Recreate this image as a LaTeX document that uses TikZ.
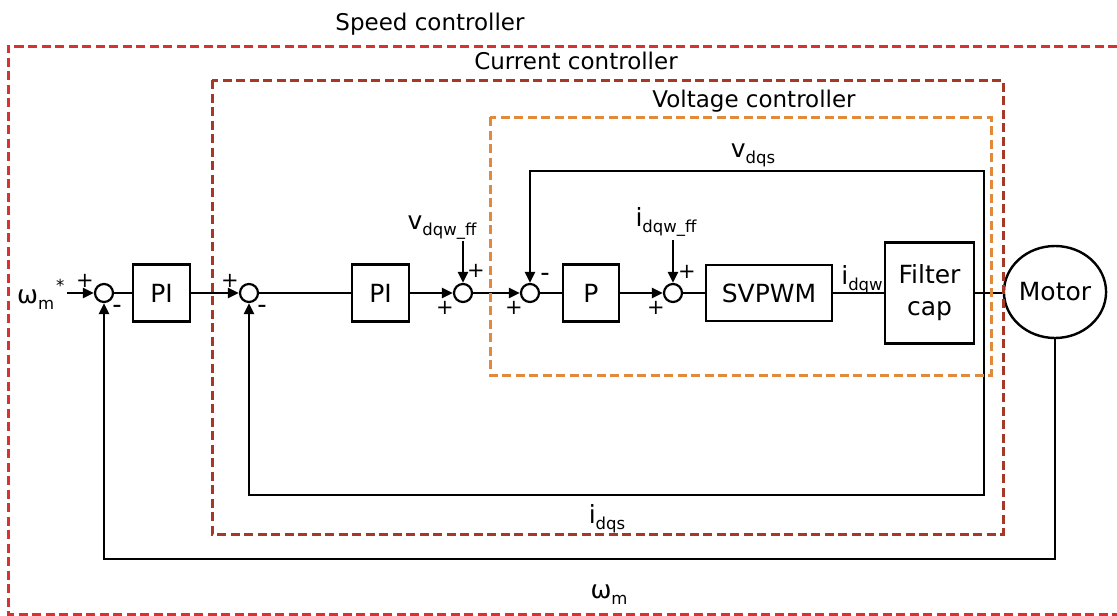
\documentclass[tikz,border=0pt]{standalone}
\usepackage{fontspec}
\setmainfont{DejaVu Sans}
\usetikzlibrary{arrows.meta,shapes.geometric}
\definecolor{spdred}{RGB}{214,50,50}
\definecolor{curred}{RGB}{166,56,40}
\definecolor{volor}{RGB}{226,138,60}
\newcommand{\lsb}[1]{\raisebox{-0.25em}{\fontsize{16.5}{17}\selectfont #1}}
\newcommand{\lsp}[1]{\raisebox{0.45em}{\fontsize{16.5}{17}\selectfont #1}}
\begin{document}
\begin{tikzpicture}[x=1pt,y=-1pt,
  ttl/.style={font=\fontsize{23}{26}\selectfont, inner sep=0pt},
  sig/.style={font=\fontsize{25}{28}\selectfont, inner sep=0pt},
  blk/.style={draw, line width=2.4pt, font=\fontsize{25}{32}\selectfont, inner sep=0pt, align=center},
  sumn/.style={draw, circle, line width=2.2pt, minimum size=18pt, inner sep=0pt},
  sgnp/.style={font=\fontsize{21}{21}\selectfont, inner sep=0pt},
  sgnm/.style={font=\fontsize{26}{26}\selectfont, inner sep=0pt},
  wire/.style={line width=2.4pt},
  arr/.style={line width=2.4pt, -{Triangle[length=11pt,width=10pt]}},
  frame/.style={dash pattern=on 9pt off 4.5pt, line width=3pt}
]
\useasboundingbox (0,0) rectangle (1117,616);

% blocks
\node[sumn] (s1) at (104,293) {};
\node[blk, minimum width=57pt, minimum height=57pt] (pi1) at (161.5,293) {PI};
\node[sumn] (s2) at (249,293) {};
\node[blk, minimum width=57pt, minimum height=57pt] (pi2) at (380.5,293) {PI};
\node[sumn] (s3) at (463,293) {};
\node[sumn] (s4) at (530,293) {};
\node[blk, minimum width=56pt, minimum height=57pt] (pb) at (591,293) {P};
\node[sumn] (s5) at (673,293) {};
\node[blk, minimum width=126pt, minimum height=56pt] (svpwm) at (769,293) {SVPWM};
\node[blk, minimum width=89pt, minimum height=101pt] (filt) at (929.5,293) {\raisebox{-4pt}{Filter}\\\raisebox{-4pt}{cap}};
\node[blk, ellipse, minimum width=96pt, minimum height=92pt] (motor) at (1055,292) {Motor};

% titles
\node[ttl, anchor=base] (tspd) at (430,30) {Speed controller};
\node[ttl, anchor=base] (tcur) at (576,69) {Current controller};
\node[ttl, anchor=base] (tvol) at (754,107) {Voltage controller};

% signal labels
\node[sig, anchor=base] (lvdqs) at (753,157) {v\lsb{dqs}};
\node[sig, anchor=base] (lidqs) at (607,523) {i\lsb{dqs}};
\node[sig, anchor=base] (lwm) at (609,598) {ω\lsb{m}};
\node[sig, anchor=base] (lidqw) at (862,284) {i\lsb{dqw}};
\node[sig, anchor=base] (lvff) at (442,229) {v\lsb{dqw\_ff}};
\node[sig, anchor=base] (liff) at (666,226) {i\lsb{dqw\_ff}};
\node[sig, anchor=base west] (lwref) at (17,303) {ω\lsb{m}\hspace{2pt}\lsp{*}};

% signs
\node[sgnp] (g1a) at (85,281) {+};
\node[sgnm] (g1b) at (117,309) {-};
\node[sgnp] (g2a) at (230,281) {+};
\node[sgnm] (g2b) at (262,309) {-};
\node[sgnp] (g3a) at (476,271) {+};
\node[sgnp] (g3b) at (445,308) {+};
\node[sgnm] (g4a) at (545,277) {-};
\node[sgnp] (g4b) at (514,308) {+};
\node[sgnp] (g5a) at (687,272) {+};
\node[sgnp] (g5b) at (656,308) {+};

% forward path
\coordinate (win) at (67,293);
\draw[arr] (win) -- (s1.west);
\draw[wire] (s1.east) -- (pi1.west);
\draw[arr] (pi1.east) -- (s2.west);
\draw[wire] (s2.east) -- (pi2.west);
\draw[arr] (pi2.east) -- (s3.west);
\coordinate (vin) at (463,241);
\draw[arr] (vin) -- (s3.north);
\draw[arr] (s3.east) -- (s4.west);
\draw[wire] (s4.east) -- (pb.west);
\draw[arr] (pb.east) -- (s5.west);
\coordinate (iin) at (673,240);
\draw[arr] (iin) -- (s5.north);
\draw[wire] (s5.east) -- (svpwm.west);
\draw[wire] (svpwm.east) -- (filt.west);
\draw[wire] (filt.east) -- (filt.east -| motor.west);

% feedback paths
\coordinate (fb) at (984,293);
\coordinate (fbt) at (984,171);
\coordinate (fbb) at (984,495);
\draw[arr] (fb) -- (fbt) -| (s4.north);
\draw[arr] (fb) -- (fbb) -| (s2.south);
\coordinate (mb) at (1055,559);
\draw[arr] (motor.south) -- (mb) -| (s1.south);

% controller frames
\draw[frame, spdred] (1117,46) -- (8,46) -- (8,614) -- (1117,614);
\draw[frame, curred] (212,80) rectangle (1003,534);
\draw[frame, volor] (490,117) rectangle (991,375);
\end{tikzpicture}
\end{document}
